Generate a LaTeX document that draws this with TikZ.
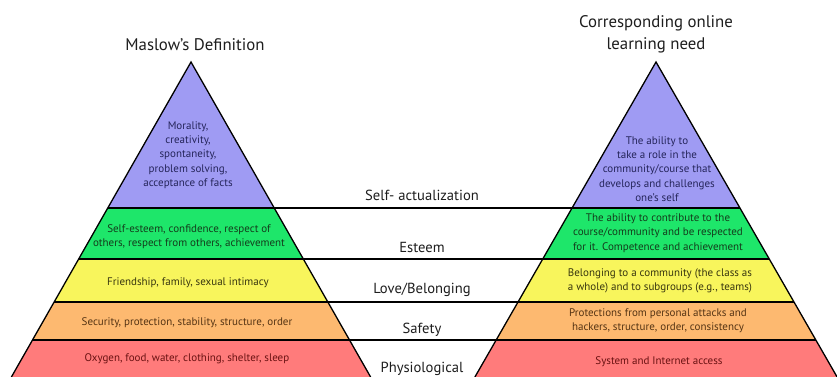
\documentclass[tikz,border=0pt]{standalone}
\usepackage{fontspec}
\setmainfont{PT Sans}
\definecolor{purp}{HTML}{9F9BF3}
\definecolor{grn}{HTML}{1EE66A}
\definecolor{yel}{HTML}{F8F55C}
\definecolor{org}{HTML}{FDB970}
\definecolor{rd}{HTML}{FF7B7B}
\definecolor{tpurp}{HTML}{25255A}
\definecolor{tgrn}{HTML}{143C1C}
\definecolor{tyel}{HTML}{38360F}
\definecolor{torg}{HTML}{553414}
\definecolor{trd}{HTML}{6A1212}
\definecolor{tdark}{HTML}{1E1E1E}
\begin{document}
\begin{tikzpicture}[x=1pt,y=-1pt,
  side/.style={draw=black,line width=1.3pt,line cap=round},
  sep/.style={draw=black,line width=1.7pt},
  conn/.style={draw=black,line width=1.1pt},
  title/.style={font=\fontsize{16.8}{22}\selectfont,text=tdark,align=center,inner sep=0pt},
  level/.style={font=\fontsize{14.6}{17}\selectfont,text=tdark,inner sep=0pt},
  inner/.style={font=\fontsize{11}{14.3}\selectfont,align=center,inner sep=0pt}]
\useasboundingbox (0,0) rectangle (837,377);
\fill[white] (0,0) rectangle (837,377);
% left pyramid coordinates
\coordinate (LA) at (191,62);
\coordinate (L1l) at (107.8,208); \coordinate (L1r) at (274.2,208);
\coordinate (L2l) at (78.7,259);  \coordinate (L2r) at (303.3,259);
\coordinate (L3l) at (54.2,302);  \coordinate (L3r) at (327.8,302);
\coordinate (L4l) at (32.5,340);  \coordinate (L4r) at (349.5,340);
\coordinate (L5l) at (11.4,377);  \coordinate (L5r) at (370.6,377);
% right pyramid coordinates
\coordinate (RA) at (656,62);
\coordinate (R1l) at (572,208);   \coordinate (R1r) at (740,208);
\coordinate (R2l) at (542.7,259); \coordinate (R2r) at (769.3,259);
\coordinate (R3l) at (518,302);   \coordinate (R3r) at (794,302);
\coordinate (R4l) at (496.1,340); \coordinate (R4r) at (815.9,340);
\coordinate (R5l) at (474.9,377); \coordinate (R5r) at (837.1,377);
% bands
\foreach \P in {L,R}{
  \fill[purp] (\P A) -- (\P1r) -- (\P1l) -- cycle;
  \fill[grn] (\P1l) -- (\P1r) -- (\P2r) -- (\P2l) -- cycle;
  \fill[yel] (\P2l) -- (\P2r) -- (\P3r) -- (\P3l) -- cycle;
  \fill[org] (\P3l) -- (\P3r) -- (\P4r) -- (\P4l) -- cycle;
  \fill[rd] (\P4l) -- (\P4r) -- (\P5r) -- (\P5l) -- cycle;
  \draw[sep] (\P1l) -- (\P1r);
  \draw[sep] (\P2l) -- (\P2r);
  \draw[sep] (\P3l) -- (\P3r);
  \draw[sep] (\P4l) -- (\P4r);
  \draw[side] (\P5l) -- (\P A) -- (\P5r);
}
% connectors between pyramids
\draw[conn] (L1r) -- (R1l);
\draw[conn] (L2r) -- (R2l);
\draw[conn] (L3r) -- (R3l);
\draw[conn] (L4r) -- (R4l);
% titles
\node[title] (t1) at (195,45) {Maslow’s Definition};
\node[title] (t2) at (656,34) {Corresponding online\\learning need};
% level labels
\node[level] (m1) at (422,195) {Self- actualization};
\node[level] (m2) at (422,247) {Esteem};
\node[level] (m3) at (422,290) {Love/Belonging};
\node[level] (m4) at (422,330) {Safety};
\node[level] (m5) at (422,369) {Physiological};
% left texts
\node[inner,text=tpurp] (a1) at (188,155) {Morality,\\creativity,\\spontaneity,\\problem solving,\\acceptance of facts};
\node[inner,text=tgrn] (a2) at (189,237) {Self-esteem, confidence, respect of\\others, respect from others, achievement};
\node[inner,text=tyel] (a3) at (188,283) {Friendship, family, sexual intimacy};
\node[inner,text=torg] (a4) at (187,323) {Security, protection, stability, structure, order};
\node[inner,text=trd] (a5) at (187,359) {Oxygen, food, water, clothing, shelter, sleep};
% right texts
\node[inner,text=tpurp] (b1) at (657,169) {The ability to\\take a role in the\\community/course that\\develops and challenges\\one’s self};
\node[inner,text=tgrn] (b2) at (658,233) {The ability to contribute to the\\course/community and be respected\\for it. Competence and achievement};
\node[inner,text=tyel] (b3) at (660,280.5) {Belonging to a community (the class as\\a whole) and to subgroups (e.g., teams)};
\node[inner,text=torg] (b4) at (658,321) {Protections from personal attacks and\\hackers, structure, order, consistency};
\node[inner,text=trd] (b5) at (659,362) {System and Internet access};
\end{tikzpicture}
\end{document}
